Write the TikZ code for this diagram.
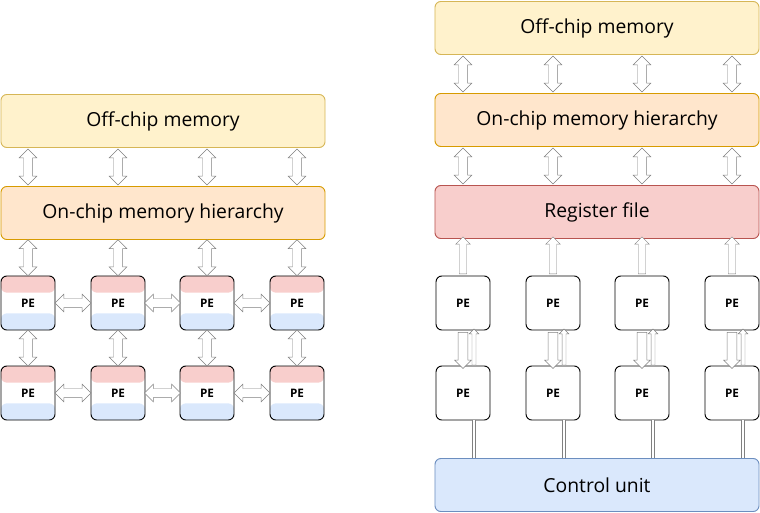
\documentclass[tikz,border=0pt]{standalone}
\usepackage{fontspec}
\setmainfont{Open Sans}
\usetikzlibrary{positioning,shapes.arrows,calc}
\definecolor{offfill}{HTML}{FFF2CC}\definecolor{offdraw}{HTML}{D6B656}
\definecolor{onfill}{HTML}{FFE6CC}\definecolor{ondraw}{HTML}{D79B00}
\definecolor{regfill}{HTML}{F8CECC}\definecolor{regdraw}{HTML}{B85450}
\definecolor{ctlfill}{HTML}{DAE8FC}\definecolor{ctldraw}{HTML}{6C8EBF}
\tikzset{
  box/.style={rectangle,rounded corners=5pt,minimum width=9.72cm,minimum height=1.59cm,thick,font=\fontsize{16.5}{19}\selectfont},
  pe/.style={rectangle,rounded corners=5pt,minimum width=1.62cm,minimum height=1.62cm,draw=black,thick,font=\bfseries},
  stripes/.style={pe,path picture={
    \fill[regfill] (path picture bounding box.north west) rectangle ([yshift=-0.5cm]path picture bounding box.north east);
    \fill[ctlfill] (path picture bounding box.south west) rectangle ([yshift=0.5cm]path picture bounding box.south east);}},
  dbl/.style={double arrow,draw=gray,fill=white,inner xsep=0pt,inner ysep=3.5pt,minimum width=15pt,double arrow head extend=3.5pt,minimum height=1.08cm},
  up/.style={single arrow,draw=gray,fill=white,inner xsep=0pt,inner ysep=#1,single arrow head extend=3pt,rotate=90},
}
\begin{document}
\begin{tikzpicture}[x=0.03cm,y=-0.03cm]
\useasboundingbox (0,0) rectangle (760,513);
% left: mesh of PEs
\node[box,draw=offdraw,fill=offfill] (off1) at (163,121) {Off-chip memory};
\node[box,draw=ondraw,fill=onfill] (on1) at (163,213) {On-chip memory hierarchy};
\foreach \c/\x in {1/28,2/118,3/207,4/297}{
  \node[stripes] (pa\c) at (\x,303) {PE};
  \node[stripes] (pb\c) at (\x,393) {PE};
  \node[dbl,rotate=90] at ($(off1.south)!0.5!(on1.north)+(\x-163,0)$) {};
  \node[dbl,rotate=90] at ($(on1.south -| pa\c)!0.5!(pa\c.north)$) {};
  \node[dbl,rotate=90] at ($(pa\c.south)!0.5!(pb\c.north)$) {};
}
\foreach \a/\b in {1/2,2/3,3/4}{
  \node[dbl] at ($(pa\a.east)!0.5!(pa\b.west)$) {};
  \node[dbl] at ($(pb\a.east)!0.5!(pb\b.west)$) {};
}
% right: systolic columns
\node[box,draw=offdraw,fill=offfill] (off2) at (597,28) {Off-chip memory};
\node[box,draw=ondraw,fill=onfill] (on2) at (597,120) {On-chip memory hierarchy};
\node[box,draw=regdraw,fill=regfill] (reg) at (597,212) {Register file};
\node[box,draw=ctldraw,fill=ctlfill] (ctl) at (597,485) {Control unit};
\foreach \c/\x in {1/463,2/553,3/642,4/732}{
  \node[pe] (qa\c) at (\x,303) {PE};
  \node[pe] (qb\c) at (\x,393) {PE};
  \node[dbl,rotate=90] at ($(off2.south -| qa\c)!0.5!(on2.north -| qa\c)$) {};
  \node[dbl,rotate=90] at ($(on2.south -| qa\c)!0.5!(reg.north -| qa\c)$) {};
  \node[up=3pt,minimum height=1.11cm] at ($(reg.south -| qa\c)!0.5!(qa\c.north)$) {};
  \node[up=4pt,minimum height=1.08cm,rotate=180] at ($(qa\c.south)!0.5!(qb\c.north)$) {};
  \node[up=1.5pt,minimum height=1.08cm,single arrow head extend=2.5pt] at ($(qa\c.south)!0.5!(qb\c.north)+(11,0)$) {};
  \draw[gray,double=white,double distance=2pt] ([xshift=0.33cm]qb\c.south) -- ([xshift=0.33cm]ctl.north -| qb\c);
}
\end{tikzpicture}
\end{document}
